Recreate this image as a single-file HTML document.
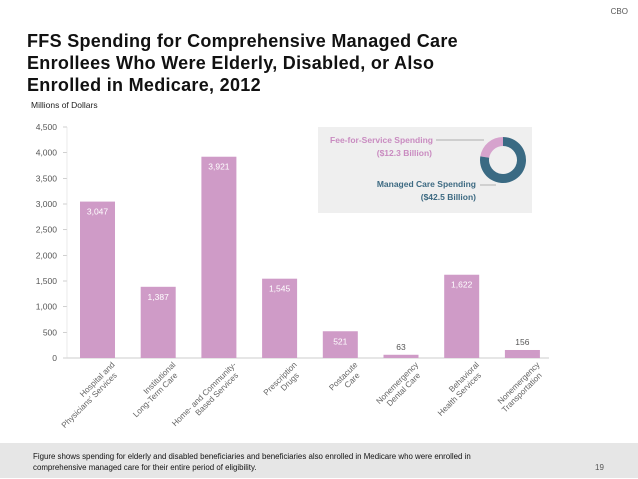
<!DOCTYPE html>
<html><head><meta charset="utf-8"><style>
body{margin:0;width:638px;height:479px;background:#fff;font-family:"Liberation Sans",sans-serif;overflow:hidden;position:relative}
.t{position:absolute}
</style></head><body>
<div class="t" style="right:10px;top:7px;font-size:8px;color:#555">CBO</div>
<div class="t" style="left:27px;top:30px;font-size:18px;font-weight:bold;line-height:22px;color:#111;letter-spacing:0.3px">FFS Spending for Comprehensive Managed Care<br>Enrollees Who Were Elderly, Disabled, or Also<br>Enrolled in Medicare, 2012</div>
<div class="t" style="left:31px;top:100px;font-size:8.5px;color:#222">Millions of Dollars</div>
<svg class="t" style="left:0;top:0" width="638" height="479" id="chart">
<g id="inset">
<rect x="318" y="127" width="214" height="86" fill="#efefef"/>
<text x="433" y="143" font-size="8.5" font-weight="bold" fill="#c98bc0" text-anchor="end">Fee-for-Service Spending</text>
<text x="432" y="156" font-size="8.5" font-weight="bold" fill="#c98bc0" text-anchor="end">($12.3 Billion)</text>
<text x="476" y="187" font-size="8.5" font-weight="bold" fill="#3d6a82" text-anchor="end">Managed Care Spending</text>
<text x="476" y="200" font-size="8.5" font-weight="bold" fill="#3d6a82" text-anchor="end">($42.5 Billion)</text>
<line x1="436" y1="140" x2="484" y2="140" stroke="#999" stroke-width="0.7"/>
<line x1="480" y1="185" x2="496" y2="185" stroke="#999" stroke-width="0.7"/>
</g>
</svg>
<div class="t" style="left:0;top:443px;width:638px;height:35px;background:#e6e6e6"></div>
<div class="t" style="left:33px;top:451px;font-size:7.9px;line-height:11px;color:#111">Figure shows spending for elderly and disabled beneficiaries and beneficiaries also enrolled in Medicare who were enrolled in<br>comprehensive managed care for their entire period of eligibility.</div>
<div class="t" style="left:595px;top:463px;font-size:8px;color:#555">19</div>
<script>
const categories=[["Hospital and","Physicians' Services"],["Institutional","Long-Term Care"],["Home- and Community-","Based Services"],["Prescription","Drugs"],["Postacute","Care"],["Nonemergency","Dental Care"],["Behavioral","Health Services"],["Nonemergency","Transportation"]];
const values=[3047,1387,3921,1545,521,63,1622,156];
const valueLabels=["3,047","1,387","3,921","1,545","521","63","1,622","156"];
const yTicks=[0,500,1000,1500,2000,2500,3000,3500,4000,4500];
const donutValues=[12.3,42.5];
const NS="http://www.w3.org/2000/svg";
const svg=document.getElementById('chart');
const y0=358,yTop=127,maxV=4500;
const yScale=v=>y0-(v/maxV)*(y0-yTop);
const xCenter=i=>97.5+i*60.7;
const bw=35;
function mk(tag,attrs,parent){const e=document.createElementNS(NS,tag);for(const k in attrs)e.setAttribute(k,attrs[k]);(parent||svg).appendChild(e);return e;}
yTicks.forEach(v=>{
 const t=mk('text',{x:57,y:yScale(v)+3,'font-size':8.5,fill:'#555','text-anchor':'end'});
 t.textContent=v.toLocaleString('en-US');
 
 
 const tk=mk('line',{x1:63,x2:67,y1:yScale(v),y2:yScale(v),stroke:'#bbb','stroke-width':0.7});
 
 
});
const ax=mk('line',{x1:67,x2:549,y1:y0,y2:y0,stroke:'#bbb','stroke-width':0.8});


const ay=mk('line',{x1:67,x2:67,y1:yTop,y2:y0,stroke:'#ddd','stroke-width':0.6});


values.forEach((v,i)=>{
 const cx=xCenter(i),yy=yScale(v);
 const r=mk('rect',{x:cx-bw/2,y:yy,width:bw,height:y0-yy,fill:'#cf9bc7'});
 
 
 const inside=(y0-yy)>25;
 const t=mk('text',{x:cx,y:inside?yy+13:yy-5,'font-size':8.5,fill:inside?'#fff':'#555','text-anchor':'middle'});
 t.textContent=valueLabels[i];
 
 
 const g=mk('g',{transform:`translate(${cx+10},${y0+8}) rotate(-45)`});
 
 
 categories[i].forEach((ln,j)=>{
  const tt=mk('text',{x:(j-1)*-6,y:5+j*9,'font-size':8.2,fill:'#666','text-anchor':'end'},g);
  tt.textContent=ln;
 });
});
// donut: FFS slice drawn counter-clockwise from top
const dcx=503,dcy=160,R=23,ri=14;
const tot=donutValues.reduce((a,b)=>a+b,0);
let a0=-Math.PI/2-donutValues[0]/tot*2*Math.PI;
const cols=['#d6a3cd','#3a6a83'];
donutValues.forEach((v,i)=>{
 const a1=a0+v/tot*2*Math.PI,lg=(a1-a0)>Math.PI?1:0;
 const p=(r,a)=>[dcx+r*Math.cos(a),dcy+r*Math.sin(a)];
 const [x1,y1]=p(R,a0),[x2,y2]=p(R,a1),[x3,y3]=p(ri,a1),[x4,y4]=p(ri,a0);
 const s=mk('path',{d:`M${x1} ${y1}A${R} ${R} 0 ${lg} 1 ${x2} ${y2}L${x3} ${y3}A${ri} ${ri} 0 ${lg} 0 ${x4} ${y4}Z`,fill:cols[i]},document.getElementById('inset'));
 
 
 a0=a1;
});
</script>
</body></html>
